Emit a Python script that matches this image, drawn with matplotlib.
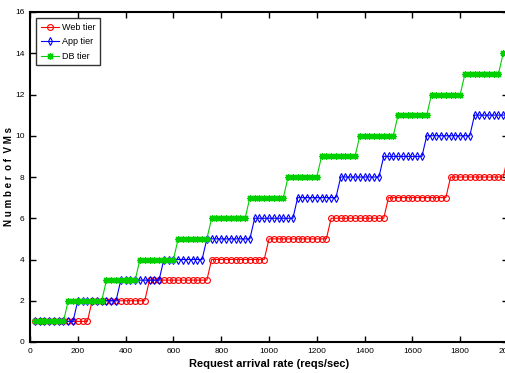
import matplotlib
matplotlib.use("Agg")
import matplotlib.pyplot as plt

plt.rcParams["font.family"] = ["Liberation Sans Narrow", "Liberation Sans", "DejaVu Sans"]

# request arrival rate (reqs/sec), one sample every 20
rate = list(range(20, 2001, 20))

web_vms = ([1] * 12 + [2] * 12 + [3] * 13 + [4] * 12 + [5] * 13
           + [6] * 12 + [7] * 13 + [8] * 12 + [9] * 1)
app_vms = ([1] * 9 + [2] * 9 + [3] * 9 + [4] * 9 + [5] * 10
           + [6] * 9 + [7] * 9 + [8] * 9 + [9] * 9 + [10] * 10 + [11] * 8)
db_vms = ([1] * 7 + [2] * 8 + [3] * 7 + [4] * 8 + [5] * 7 + [6] * 8
          + [7] * 8 + [8] * 7 + [9] * 8 + [10] * 8 + [11] * 7 + [12] * 7
          + [13] * 8 + [14] * 2)

fig = plt.figure(figsize=(5.06, 3.73), dpi=100)
ax = fig.add_axes([30 / 506, 31 / 373, 478 / 506, 330 / 373])

ax.plot(rate, web_vms, color="#ff0000", lw=0.8, marker="o", ms=4.2,
        mfc="none", mew=0.8, label="Web tier")
ax.plot(rate, app_vms, color="#0000ff", lw=0.8, marker="d", ms=4.2,
        mfc="none", mew=0.8, label="App tier")
ax.plot(rate, db_vms, color="#00d000", lw=0.8, marker=(8, 2, 0), ms=5,
        mew=0.9, label="DB tier")

ax.set_xlim(0, 2000)
ax.set_ylim(0, 16)
ax.set_xticks(range(0, 2001, 200))
ax.set_yticks(range(0, 17, 2))
ax.tick_params(direction="in", length=4, width=1, labelsize=6, pad=4,
               top=True, right=True)
for s in ax.spines.values():
    s.set_linewidth(1.5)

ax.set_xlabel("Request arrival rate (reqs/sec)", fontsize=8, fontweight="bold",
              labelpad=3)
ax.set_ylabel("N u m b e r  o f  V M s", fontsize=7, fontweight="bold",
              labelpad=1)

leg = ax.legend(loc="upper left", fontsize=6.5, frameon=True, fancybox=False,
                borderpad=0.5, handlelength=2.0, labelspacing=0.6,
                borderaxespad=0.7, handletextpad=0.3)
leg.get_frame().set_edgecolor("black")
leg.get_frame().set_linewidth(1.0)

fig.savefig("out.png", dpi=100)
